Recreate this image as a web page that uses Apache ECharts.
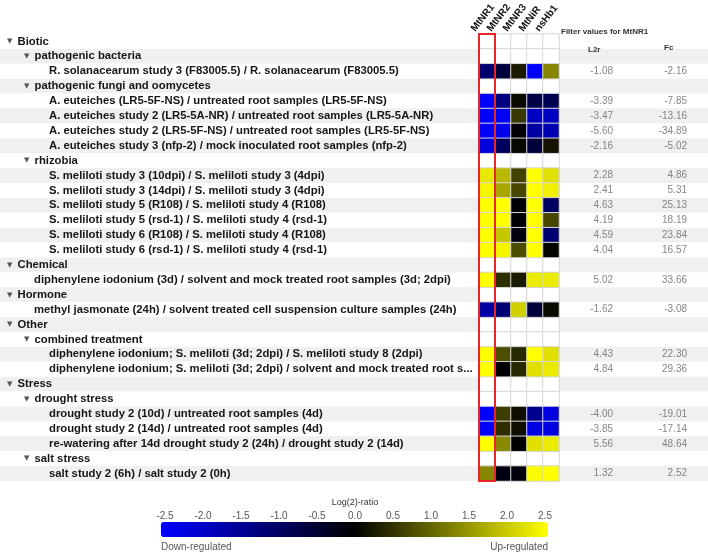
<!DOCTYPE html>
<html><head><meta charset="utf-8">
<script src="https://cdn.jsdelivr.net/npm/echarts@6/dist/echarts.min.js"></script>
<style>html,body{margin:0;padding:0;background:#fff}#c{width:708px;height:556px}</style>
</head><body><div id="c"></div>
<script>
const genes = ['MtNR1', 'MtNR2', 'MtNR3', 'MtNiR', 'nsHb1'];
const valueCols = ['L2r', 'Fc'];
const colorTicks = [-2.5, -2.0, -1.5, -1.0, -0.5, 0.0, 0.5, 1.0, 1.5, 2.0, 2.5];

const rowLabels = [
  'Biotic',
  'pathogenic bacteria',
  'R. solanacearum study 3 (F83005.5) / R. solanacearum (F83005.5)',
  'pathogenic fungi and oomycetes',
  'A. euteiches (LR5-5F-NS) / untreated root samples (LR5-5F-NS)',
  'A. euteiches study 2 (LR5-5A-NR) / untreated root samples (LR5-5A-NR)',
  'A. euteiches study 2 (LR5-5F-NS) / untreated root samples (LR5-5F-NS)',
  'A. euteiches study 3 (nfp-2) / mock inoculated root samples (nfp-2)',
  'rhizobia',
  'S. meliloti study 3 (10dpi) / S. meliloti study 3 (4dpi)',
  'S. meliloti study 3 (14dpi) / S. meliloti study 3 (4dpi)',
  'S. meliloti study 5 (R108) / S. meliloti study 4 (R108)',
  'S. meliloti study 5 (rsd-1) / S. meliloti study 4 (rsd-1)',
  'S. meliloti study 6 (R108) / S. meliloti study 4 (R108)',
  'S. meliloti study 6 (rsd-1) / S. meliloti study 4 (rsd-1)',
  'Chemical',
  'diphenylene iodonium (3d) / solvent and mock treated root samples (3d; 2dpi)',
  'Hormone',
  'methyl jasmonate (24h) / solvent treated cell suspension culture samples (24h)',
  'Other',
  'combined treatment',
  'diphenylene iodonium; S. meliloti (3d; 2dpi) / S. meliloti study 8 (2dpi)',
  'diphenylene iodonium; S. meliloti (3d; 2dpi) / solvent and mock treated root s...',
  'Stress',
  'drought stress',
  'drought study 2 (10d) / untreated root samples (4d)',
  'drought study 2 (14d) / untreated root samples (4d)',
  're-watering after 14d drought study 2 (24h) / drought study 2 (14d)',
  'salt stress',
  'salt study 2 (6h) / salt study 2 (0h)'
];
const rowDepth   = [1,2,3,2,3,3,3,3,2,3,3,3,3,3,3,1,2,1,2,1,2,3,3,1,2,3,3,3,2,3];
const rowIsGroup = [1,1,0,1,0,0,0,0,1,0,0,0,0,0,0,1,0,1,0,1,1,0,0,1,1,0,0,0,1,0];

const l2r = [null,null,-1.08,null,-3.39,-3.47,-5.60,-2.16,null,2.28,2.41,4.63,4.19,4.59,4.04,null,5.02,null,-1.62,null,null,4.43,4.84,null,null,-4.00,-3.85,5.56,null,1.32];
const fc  = [null,null,-2.16,null,-7.85,-13.16,-34.89,-5.02,null,4.86,5.31,25.13,18.19,23.84,16.57,null,33.66,null,-3.08,null,null,22.30,29.36,null,null,-19.01,-17.14,48.64,null,2.52];

const mtNR1 = [null,null,-1.08,null,-3.39,-3.47,-5.60,-2.16,null,2.28,2.41,4.63,4.19,4.59,4.04,null,5.02,null,-1.62,null,null,4.43,4.84,null,null,-4.00,-3.85,5.56,null,1.32];
const mtNR2 = [null,null,-0.6,null,-1.25,-2.4,-2.3,-0.9,null,1.8,1.65,2.5,2.5,1.95,2.4,null,0.45,null,-1.15,null,null,0.75,-0.05,null,null,0.6,0.45,1.35,null,-0.2];
const mtNR3 = [null,null,0.25,null,0.1,0.55,-0.05,0.08,null,0.65,0.7,-0.05,-0.05,-0.15,0.75,null,0.25,null,2.05,null,null,0.4,0.4,null,null,0.15,0.15,0.0,null,-0.1];
const mtNiR = [null,null,-2.5,null,-0.7,-1.9,-1.6,-0.6,null,2.5,2.5,2.5,2.5,2.5,2.5,null,2.3,null,-0.6,null,null,2.5,2.2,null,null,-1.4,-2.2,2.2,null,2.45];
const nsHb1 = [null,null,1.3,null,-0.8,-1.9,-1.75,0.2,null,2.2,2.35,-0.95,0.7,-1.1,0.05,null,2.3,null,0.1,null,null,2.2,2.3,null,null,-2.2,-2.2,2.3,null,2.5];

const geneCols = [mtNR1, mtNR2, mtNR3, mtNiR, nsHb1];
const N = rowLabels.length;
const TOP = 34, H = 447;
const FONT = 'Liberation Sans, Arial, sans-serif';

const cellData = [], emptyData = [];
geneCols.forEach((arr, ci) => arr.forEach((v, ri) => {
  if (v === null) emptyData.push([ci, ri, 0]);
  else cellData.push([ci, ri, Math.max(-2.5, Math.min(2.5, v))]);
}));
const l2rData = [], fcData = [];
l2r.forEach((v, i) => { if (v !== null) l2rData.push([0, i, v]); });
fc.forEach((v, i) => { if (v !== null) fcData.push([1, i, v]); });

const indentOf = (i) => {
  const d = rowDepth[i];
  if (rowIsGroup[i]) return d === 1 ? 0 : 17;
  return d === 2 ? 27 : 42;
};

const rich = {
  g: { fontSize: 11.3, fontWeight: 'bold', color: '#161616', fontFamily: FONT, lineHeight: 14 },
  tri: { fontSize: 7, color: '#555', fontFamily: 'DejaVu Sans', width: 10.5, lineHeight: 14 },
  i17: { width: 17 }, i27: { width: 27 }, i42: { width: 42 }
};

const chart = echarts.init(document.getElementById('c'), null, { renderer: 'canvas' });
const valueLabel = {
  show: true, position: 'inside', align: 'right', offset: [16, 0],
  fontSize: 10, color: '#666', fontFamily: FONT,
  formatter: p => p.value[2].toFixed(2)
};

chart.setOption({
  animation: false,
  backgroundColor: '#ffffff',
  title: [
    { text: 'Filter values for MtNR1', left: 561, top: 28, padding: 0,
      textStyle: { fontSize: 8, fontWeight: 'bold', color: '#333', fontFamily: FONT } },
    { text: 'L2r', left: 588, top: 46, padding: 0,
      textStyle: { fontSize: 8, fontWeight: 'bold', color: '#333', fontFamily: FONT } },
    { text: 'Fc', left: 664, top: 44, padding: 0,
      textStyle: { fontSize: 8, fontWeight: 'bold', color: '#333', fontFamily: FONT } },
    { text: 'Down-regulated', left: 161, top: 542, padding: 0,
      textStyle: { fontSize: 10, fontWeight: 'normal', color: '#555', fontFamily: FONT } },
    { text: 'Up-regulated', right: 160, top: 542, padding: 0,
      textStyle: { fontSize: 10, fontWeight: 'normal', color: '#555', fontFamily: FONT } }
  ],
  grid: [
    { left: 0, right: 0, top: TOP, height: H },
    { left: 479, width: 80, top: TOP, height: H },
    { left: 560, width: 150, top: TOP, height: H },
    { left: 465, width: 80, top: TOP, height: H },
    { left: 165, width: 380, top: 522, height: 15 }
  ],
  xAxis: [
    { gridIndex: 0, type: 'value', show: false },
    { gridIndex: 1, type: 'category', data: genes, show: false },
    { gridIndex: 2, type: 'category', data: valueCols, show: false },
    { gridIndex: 3, type: 'category', data: genes, position: 'top',
      axisLine: { show: false }, axisTick: { show: false }, splitLine: { show: false },
      axisLabel: { rotate: 52, margin: 12, align: 'left', verticalAlign: 'middle', interval: 0,
        fontSize: 10, fontWeight: 'bold', color: '#111', fontFamily: FONT } },
    { gridIndex: 4, type: 'value', min: -2.5, max: 2.5, interval: 0.5, position: 'top',
      axisLine: { show: false }, axisTick: { show: false }, splitLine: { show: false },
      axisLabel: { margin: 1, fontSize: 10, color: '#555', fontFamily: FONT,
        formatter: v => v.toFixed(1) },
      name: 'Log(2)-ratio', nameLocation: 'middle', nameGap: 15,
      nameTextStyle: { fontSize: 9, color: '#333', fontFamily: FONT } }
  ],
  yAxis: [
    { gridIndex: 0, type: 'category', data: rowLabels, inverse: true,
      axisLine: { show: false }, axisTick: { show: false },
      splitArea: { show: true, interval: 0, areaStyle: { color: ['#ffffff', '#f0f0f0'] } },
      axisLabel: { inside: true, margin: 7, interval: 0, rich: rich,
        formatter: (v, i) => {
          const ind = indentOf(i);
          const pre = ind ? '{i' + ind + '| }' : '';
          return pre + (rowIsGroup[i] ? '{tri|▼}' : '') + '{g|' + v + '}';
        } } },
    { gridIndex: 1, type: 'category', data: rowLabels, inverse: true, show: false },
    { gridIndex: 2, type: 'category', data: rowLabels, inverse: true, show: false },
    { gridIndex: 3, type: 'value', show: false },
    { gridIndex: 4, type: 'value', show: false }
  ],
  visualMap: {
    type: 'continuous', seriesIndex: 1, min: -2.5, max: 2.5,
    orient: 'horizontal', left: 161, top: 522, padding: 0,
    itemWidth: 15, itemHeight: 387, calculable: false, hoverLink: false,
    inRange: { color: ['#0000ff', '#000000', '#ffff00'] }
  },
  series: [
    { type: 'heatmap', xAxisIndex: 1, yAxisIndex: 1, data: emptyData, silent: true,
      itemStyle: { color: '#ffffff', borderColor: '#d6d6d6', borderWidth: 1 } },
    { type: 'heatmap', xAxisIndex: 1, yAxisIndex: 1, data: cellData, silent: true,
      itemStyle: { borderColor: '#d6d6d6', borderWidth: 1 } },
    { type: 'custom', xAxisIndex: 1, yAxisIndex: 1, data: [[0, 0, N - 1]], clip: false, silent: true, z: 10,
      renderItem: (params, api) => {
        const a = api.coord([api.value(0), api.value(1)]);
        const b = api.coord([api.value(0), api.value(2)]);
        const s = api.size([1, 1]);
        return { type: 'rect',
          shape: { x: a[0] - s[0] / 2, y: a[1] - s[1] / 2, width: s[0], height: b[1] - a[1] + s[1] },
          style: { fill: 'none', stroke: '#e8262a', lineWidth: 2 } };
      } },
    { type: 'scatter', xAxisIndex: 2, yAxisIndex: 2, data: l2rData, symbolSize: 1, silent: true,
      itemStyle: { color: 'rgba(0,0,0,0)' }, label: valueLabel },
    { type: 'scatter', xAxisIndex: 2, yAxisIndex: 2, data: fcData, symbolSize: 1, silent: true,
      itemStyle: { color: 'rgba(0,0,0,0)' }, label: valueLabel }
  ]
});
</script>
</body></html>
